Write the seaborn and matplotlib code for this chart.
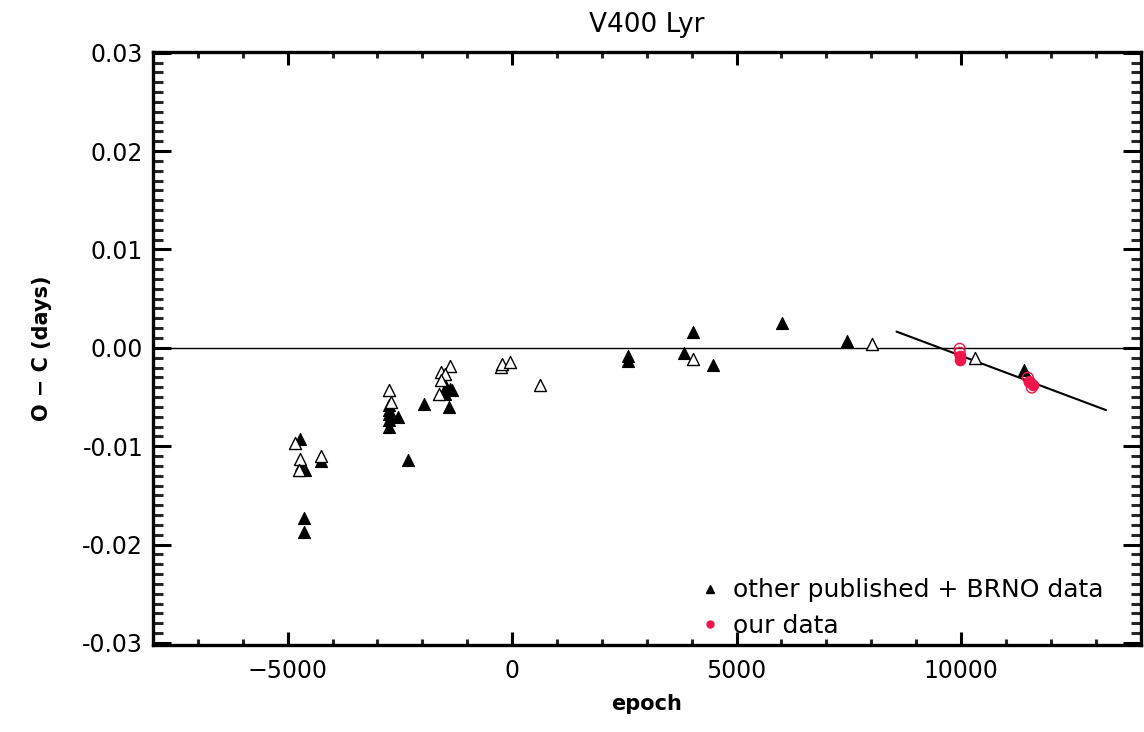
import matplotlib
matplotlib.use("Agg")
import matplotlib.pyplot as plt
import seaborn as sns
import pandas as pd
from matplotlib.lines import Line2D
from matplotlib.ticker import MultipleLocator, FormatStrFormatter

# ---- data ----
filled_epoch = [-4733, -4696, -4650, -4622, -4267, -4644, -4644,
                -2733, -2733, -2740, -2748, -2548, -2748, -1956, -2326,
                -1474, -1385, -1489, -1340, -1415,
                2585, 2585, 4030, 3822, 4474, 6022, 7467, 11400]
filled_oc = [-0.00930, -0.01189, -0.0122, -0.01246, -0.01149, -0.01727, -0.01873,
             -0.00583, -0.00633, -0.00674, -0.00734, -0.00707, -0.00802, -0.00566, -0.01145,
             -0.00398, -0.00414, -0.00465, -0.00430, -0.00600,
             -0.00088, -0.00135, 0.00158, -0.00050, -0.00179, 0.00249, 0.00067, -0.00229]

open_epoch = [-4844, -4718, -4748, -4252,
              -2733, -2696, -1585, -1385, -1489, -1585, -1622,
              -252, -215, -52, 615, 4030, 8007, 10318]
open_oc = [-0.00964, -0.01131, -0.01246, -0.01098,
           -0.00424, -0.00550, -0.00246, -0.00189, -0.00263, -0.00330, -0.00465,
           -0.00196, -0.00169, -0.00145, -0.00381, -0.00111, 0.00040, -0.00101]

our_filled_epoch = [9970, 9970, 11526, 11600]
our_filled_oc = [-0.00078, -0.00128, -0.00350, -0.00380]
our_open_epoch = [9970, 9970, 11489, 11526, 11578]
our_open_oc = [-0.00010, -0.00050, -0.00303, -0.00347, -0.00404]

fit_epoch = [8563, 13230]
fit_oc = [0.00165, -0.00633]

title = "V400 Lyr"
xlabel = "epoch"
ylabel = "O − C (days)"
legend_labels = ["other published + BRNO data", "our data"]

RED = "#f0154a"

sns.set_theme(style="white")
plt.rcParams["font.family"] = ["DejaVu Sans"]
plt.rcParams["text.color"] = "black"
plt.rcParams["axes.labelcolor"] = "black"

fig = plt.figure(figsize=(11.44, 7.32), dpi=100)
ax = fig.add_axes([0.1337, 0.1189, 0.8633, 0.8105])

df_f = pd.DataFrame({"epoch": filled_epoch, "oc": filled_oc})
df_o = pd.DataFrame({"epoch": open_epoch, "oc": open_oc})
df_rf = pd.DataFrame({"epoch": our_filled_epoch, "oc": our_filled_oc})
df_ro = pd.DataFrame({"epoch": our_open_epoch, "oc": our_open_oc})
df_fit = pd.DataFrame({"epoch": fit_epoch, "oc": fit_oc})

ax.axhline(0, color="black", lw=1.0, zorder=1)
sns.lineplot(data=df_fit, x="epoch", y="oc", ax=ax, color="black", lw=1.5, zorder=2)
sns.scatterplot(data=df_f, x="epoch", y="oc", ax=ax, marker="^", s=75,
                color="black", edgecolor="black", linewidth=0.8, zorder=3)
sns.scatterplot(data=df_o, x="epoch", y="oc", ax=ax, marker="^", s=75,
                facecolor="white", edgecolor="black", linewidth=1.0, zorder=3)
sns.scatterplot(data=df_rf, x="epoch", y="oc", ax=ax, marker="o", s=55,
                color=RED, edgecolor=RED, linewidth=1.0, zorder=4)
sns.scatterplot(data=df_ro, x="epoch", y="oc", ax=ax, marker="o", s=60,
                facecolor="none", edgecolor=RED, linewidth=1.0, zorder=4)

ax.set_xlim(-8000, 14000)
ax.set_ylim(-0.0302, 0.0301)
ax.xaxis.set_major_locator(MultipleLocator(5000))
ax.xaxis.set_minor_locator(MultipleLocator(1000))
ax.yaxis.set_major_locator(MultipleLocator(0.01))
ax.yaxis.set_minor_locator(MultipleLocator(0.001))
ax.yaxis.set_major_formatter(FormatStrFormatter("%.2f"))

for sp in ax.spines.values():
    sp.set_linewidth(2.4)
    sp.set_color("black")

ax.tick_params(axis="x", which="major", direction="in", length=9.5, width=2.2,
               top=True, bottom=True, labelsize=17, pad=10, colors="black")
ax.tick_params(axis="x", which="minor", direction="in", length=4.5, width=2.2,
               top=True, bottom=True)
ax.tick_params(axis="y", which="major", direction="in", length=13, width=2.2,
               left=True, right=True, labelsize=17, pad=7, colors="black")
ax.tick_params(axis="y", which="minor", direction="in", length=7, width=2.2,
               left=True, right=True)

ax.set_xlabel(xlabel, fontsize=15, fontweight="bold", labelpad=8)
ax.set_ylabel(ylabel, fontsize=15, fontweight="bold", labelpad=22)
ax.set_title(title, fontsize=19, pad=14)

handles = [
    Line2D([], [], marker="^", linestyle="none", color="black", markersize=6),
    Line2D([], [], marker="o", linestyle="none", color=RED, markeredgecolor=RED, markersize=5),
]
ax.legend(handles, legend_labels, loc="lower right", bbox_to_anchor=(0.98, -0.017),
          frameon=False, fontsize=18, handlelength=0.8, handletextpad=0.5,
          labelspacing=0.45, borderaxespad=0.3)

fig.savefig("out.png", dpi=100)
